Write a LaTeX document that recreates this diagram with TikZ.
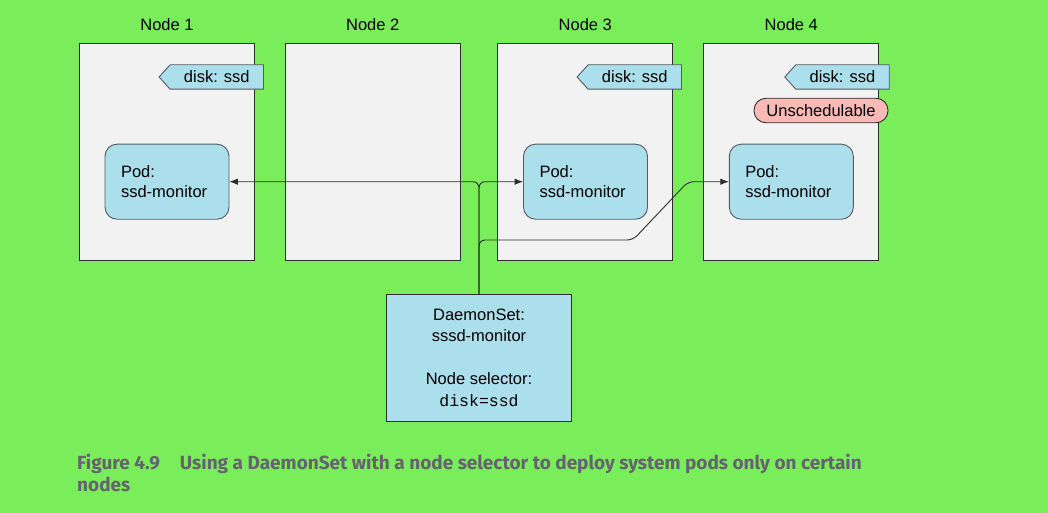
\documentclass[tikz,border=0pt]{standalone}
\usepackage{fontspec}
\setmainfont{Liberation Sans}
\setmonofont{Liberation Mono}
\newfontfamily\capfont{Fira Sans}
\usetikzlibrary{arrows.meta,calc}
\definecolor{bg}{RGB}{122,238,90}
\definecolor{nodefill}{RGB}{242,242,242}
\definecolor{podfill}{RGB}{171,223,236}
\definecolor{unsched}{RGB}{250,185,180}
\definecolor{linecol}{RGB}{45,45,45}
\definecolor{podline}{RGB}{85,90,95}
\definecolor{capcol}{RGB}{102,98,112}
\tikzset{
  nodebox/.style={draw=linecol, fill=nodefill, line width=0.9pt, minimum width=175pt, minimum height=217pt, inner sep=0pt},
  lbl/.style={font=\fontsize{16.5}{20}\selectfont, inner sep=0pt},
  tagbox/.style={minimum width=93pt, minimum height=24pt, inner sep=0pt, font=\fontsize{16.5}{20}\selectfont},
  tagline/.style={draw=podline, fill=podfill, line width=0.9pt},
  podbox/.style={draw=podline, fill=podfill, line width=0.9pt, rounded corners=12pt, text width=92pt, inner xsep=16pt, inner ysep=0pt, minimum height=75pt, align=left, font=\fontsize{16.5}{20}\selectfont},
  unsbox/.style={draw=linecol, fill=unsched, line width=0.9pt, rounded corners=12pt, minimum width=134pt, minimum height=24.5pt, inner sep=0pt, font=\fontsize{16.5}{20}\selectfont},
  dsbox/.style={draw=linecol, fill=podfill, line width=0.9pt, minimum width=185pt, minimum height=127pt, inner sep=0pt, align=center, font=\fontsize{16.5}{21.5}\selectfont},
  conn/.style={draw=linecol, line width=0.9pt, rounded corners=6pt, -{Latex[length=8.5pt,width=6.5pt]}},
  caption/.style={anchor=base west, inner sep=0pt, text=capcol, font=\capfont\bfseries\fontsize{19}{22}\selectfont}
}
\begin{document}
\begin{tikzpicture}[x=1pt,y=-1pt]
\fill[bg] (0,0) rectangle (1048,513);
\useasboundingbox (0,0) rectangle (1048,513);

% node boxes
\node[nodebox] (n1) at (167,151.7) {};
\node[nodebox] (n2) at (372.7,151.7) {};
\node[nodebox] (n3) at (585.3,151.7) {};
\node[nodebox] (n4) at (791.3,151.7) {};

\node[lbl] (l1) at (167,25) {Node 1};
\node[lbl] (l2) at (372.7,25) {Node 2};
\node[lbl] (l3) at (585.3,25) {Node 3};
\node[lbl] (l4) at (791.3,25) {Node 4};

% tags
\foreach \t/\x in {t1/216.8, t3/634.8, t4/842.5}{
  \node[tagbox] (\t) at (\x,77) {};
  \path[tagline] (\t.north west) -- (\t.north east) -- (\t.south east) -- (\t.south west) -- ([xshift=-11pt]\t.west) -- cycle;
  \node[tagbox] (\t text) at (\t) {disk: ssd};
}

\node[unsbox] (u4) at (821,110.5) {Unschedulable};

% pods
\node[podbox] (p1) at (167,181.7) {Pod:\\ssd-monitor};
\node[podbox] (p3) at (585.5,181.7) {Pod:\\ssd-monitor};
\node[podbox] (p4) at (791.3,181.7) {Pod:\\ssd-monitor};

% daemonset
\node[dsbox] (ds) at (479,357.8) {DaemonSet:\\sssd-monitor\\[21.5pt]Node selector:\\\texttt{disk=ssd}};

% connectors
\coordinate (b1) at (479,240);
\coordinate (b2) at (633,240);
\coordinate (b3) at (688,181.7);
\draw[conn] (ds.north) |- (p1.east);
\draw[conn] (ds.north) |- (p3.west);
\draw[conn] (ds.north) -- (b1) -- (b2) -- (b3) -- (p4.west);

% caption
\node[caption] (cap1) at (77,469) {Figure 4.9\hspace{20pt}Using a DaemonSet with a node selector to deploy system pods only on certain};
\node[caption] (cap2) at (77,491) {nodes};
\end{tikzpicture}
\end{document}
